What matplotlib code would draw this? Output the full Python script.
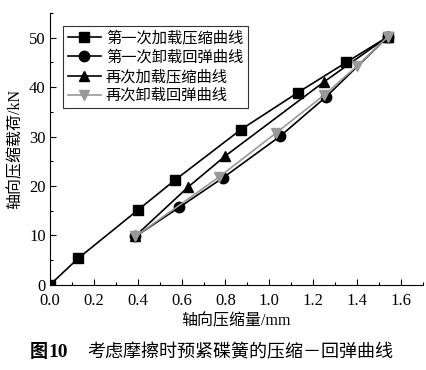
import matplotlib
matplotlib.use("Agg")
import matplotlib.pyplot as plt
from matplotlib.ticker import MultipleLocator

plt.rcParams['font.family'] = ['Liberation Serif', 'Noto Sans CJK SC']
plt.rcParams['mathtext.fontset'] = 'stix'

# --- data ---
x_load1 = [0.00, 0.13, 0.40, 0.57, 0.87, 1.13, 1.35, 1.54]
y_load1 = [0.0, 5.4, 15.1, 21.2, 31.4, 38.9, 45.0, 50.2]

x_unload1 = [1.54, 1.26, 1.05, 0.79, 0.59, 0.39]
y_unload1 = [50.2, 38.1, 30.1, 21.7, 15.7, 9.8]

x_load2 = [0.39, 0.63, 0.80, 1.25, 1.54]
y_load2 = [9.9, 19.8, 26.1, 41.1, 50.2]

x_unload2 = [1.54, 1.40, 1.25, 1.03, 0.77, 0.39]
y_unload2 = [50.2, 44.3, 38.4, 30.7, 21.8, 9.8]

labels = ['第一次加载压缩曲线', '第一次卸载回弹曲线', '再次加载压缩曲线', '再次卸载回弹曲线']

fig = plt.figure(figsize=(4.26, 3.70), dpi=100)
ax = fig.add_axes([0.117, 0.230, 0.876, 0.735])

ax.plot(x_load1, y_load1, '-s', color='black', lw=1.2, ms=7.5, label=labels[0])
ax.plot(x_unload1, y_unload1, '-o', color='black', lw=1.2, ms=7.5, label=labels[1])
ax.plot(x_load2, y_load2, '-^', color='black', lw=1.2, ms=7.5, label=labels[2])
ax.plot(x_unload2, y_unload2, '-v', color='#999999', lw=1.2, ms=7.5, label=labels[3])

ax.set_xlim(0, 1.7)
ax.set_ylim(0, 55)
ax.xaxis.set_minor_locator(MultipleLocator(0.1))
ax.yaxis.set_major_locator(MultipleLocator(10))
ax.yaxis.set_minor_locator(MultipleLocator(5))
ax.set_xticks([0, 0.2, 0.4, 0.6, 0.8, 1.0, 1.2, 1.4, 1.6])
ax.set_xticklabels(['0.0', '0.2', '0.4', '0.6', '0.8', '1.0', '1.2', '1.4', '1.6'])
ax.tick_params(which='both', direction='in', labelsize=12, width=0.8)
ax.tick_params(which='major', length=4)
ax.tick_params(which='minor', length=2.5)
ax.tick_params(axis='x', pad=6)
ax.tick_params(axis='y', pad=3)
ax.spines['top'].set_visible(False)
ax.spines['right'].set_visible(False)

ax.set_xlabel('轴向压缩量/mm', fontsize=11.5, labelpad=3)
ax.set_ylabel('轴向压缩载荷/kN', fontsize=11.5, labelpad=4)

leg = ax.legend(loc='upper left', bbox_to_anchor=(0.015, 0.98), fontsize=11,
                frameon=True, fancybox=False, edgecolor='black',
                handlelength=2.2, borderpad=0.3, labelspacing=0.3, handletextpad=0.3)
leg.get_frame().set_linewidth(0.8)

fig.text(0.070, 0.035, '图', fontsize=13, family=['Noto Sans CJK SC'], weight='bold', ha='left')
fig.text(0.113, 0.035, '10', fontsize=14, family=['Liberation Serif'], weight='bold', ha='left')
fig.text(0.205, 0.035, '考虑摩擦时预紧碟簧的压缩－回弹曲线', fontsize=13,
         family=['Noto Sans CJK SC'], ha='left')

fig.savefig('out.png', dpi=100)
